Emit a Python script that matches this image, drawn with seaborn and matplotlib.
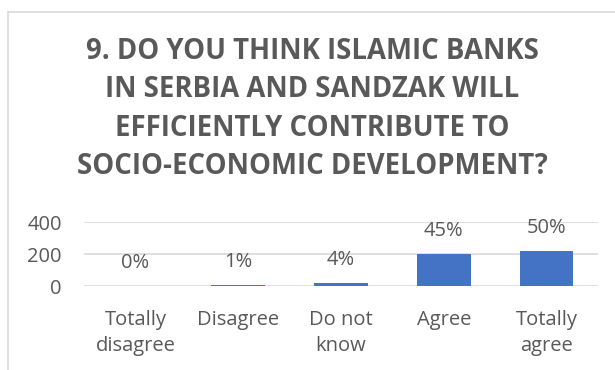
import matplotlib
matplotlib.use("Agg")
import matplotlib.pyplot as plt
import seaborn as sns
import pandas as pd
from matplotlib.lines import Line2D

categories = ["Totally\ndisagree", "Disagree", "Do not\nknow", "Agree", "Totally\nagree"]
counts = [1, 4, 18, 198, 220]
pct_labels = ["0%", "1%", "4%", "45%", "50%"]
yticks = [0, 200, 400]
title = "9. DO YOU THINK ISLAMIC BANKS\nIN SERBIA AND SANDZAK WILL\nEFFICIENTLY CONTRIBUTE TO\nSOCIO-ECONOMIC DEVELOPMENT?"

sns.set_theme(style="white")
plt.rcParams['font.family'] = ['Open Sans', 'DejaVu Sans']

df = pd.DataFrame({"cat": categories, "n": counts})
gray = "#595959"

fig = plt.figure(figsize=(6.15, 3.70), dpi=100)
ax = fig.add_axes([84/615, 1 - 286/370, (598-84)/615, 64/370])
sns.barplot(data=df, x="cat", y="n", color="#4472C4", width=0.52, ax=ax,
            saturation=1, edgecolor="none")
ax.set_ylim(0, 400)
ax.set_yticks(yticks)
ax.set_yticklabels([str(t) for t in yticks], fontsize=14.5, color=gray)
ax.set_xlim(-0.5, 4.5)
ax.set_xlabel("")
ax.set_ylabel("")
ax.tick_params(axis="x", labelsize=14.5, colors=gray, length=0, pad=17)
ax.tick_params(axis="y", length=0, pad=16)
for lab in ax.get_xticklabels():
    lab.set_linespacing(1.45)
ax.grid(axis="y", color="#D9D9D9", linewidth=1.2)
ax.set_axisbelow(True)
for s in ax.spines.values():
    s.set_visible(False)

for i, (c, p) in enumerate(zip(counts, pct_labels)):
    ax.annotate(p, (i, c), xytext=(0, 16.5), textcoords="offset points",
                ha="center", va="center", fontsize=14.5, color=gray)

fig.text(312/615, 1 - 109/370, title, ha="center", va="center", fontsize=19.8,
         fontweight="bold", color=gray, linespacing=1.43)

# chart area border
fig.add_artist(Line2D([8/615, 8/615], [0, 1 - 12/370], transform=fig.transFigure,
                      color="#D9D9D9", linewidth=1.2))
fig.add_artist(Line2D([8/615, 1], [1 - 12/370, 1 - 12/370], transform=fig.transFigure,
                      color="#D9D9D9", linewidth=1.2))

fig.savefig("out.png", dpi=100)
